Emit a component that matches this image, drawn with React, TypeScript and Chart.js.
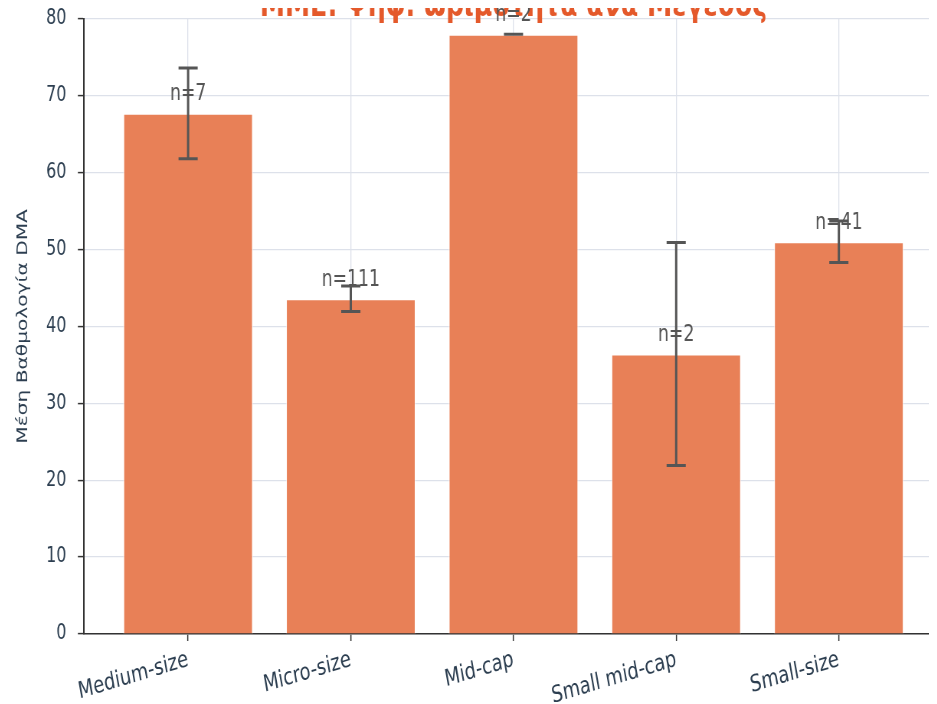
import React, { useEffect, useRef } from "react";
import { Chart, registerables } from "chart.js";

Chart.register(...registerables);

const categories = ["Medium-size", "Micro-size", "Mid-cap", "Small mid-cap", "Small-size"];
const meanScores = [67.7, 43.6, 78.0, 36.4, 51.0];
const errorValues = [5.9, 1.65, 0, 14.5, 2.7];
const sampleCounts = [7, 111, 2, 2, 41];
const yAxisMin = 0;
const yAxisMax = 80;
const yAxisStep = 10;
const titleText = "ΜΜΕ: Ψηφ. ωριμότητα ανά Μέγεθος";
const yAxisTitle = "Μέση Βαθμολογία DMA";

const FONT = "'DejaVu Sans', 'Noto Sans', sans-serif";
const SCALE_X = 0.766;
const CANVAS_W = 1240;
const CANVAS_H = 760;

const errorBarPlugin = {
  id: "errorBarsAndCounts",
  afterDraw(chart: any) {
    const meta = chart.getDatasetMeta(0);
    const ys = chart.scales.y;
    const ctx = chart.ctx;
    ctx.save();
    // counts
    ctx.fillStyle = "#555555";
    ctx.font = `22.5px ${FONT}`;
    ctx.textAlign = "center";
    ctx.textBaseline = "alphabetic";
    meta.data.forEach((bar: any, i: number) => {
      ctx.fillText(`n=${sampleCounts[i]}`, bar.x, bar.y - 13);
    });
    // error bars
    ctx.strokeStyle = "#555555";
    ctx.lineWidth = 3;
    meta.data.forEach((bar: any, i: number) => {
      const hi = ys.getPixelForValue(meanScores[i] + errorValues[i]);
      const lo = ys.getPixelForValue(meanScores[i] - errorValues[i]);
      const cap = 12.5;
      ctx.beginPath();
      ctx.moveTo(bar.x, hi);
      ctx.lineTo(bar.x, lo);
      ctx.moveTo(bar.x - cap, hi);
      ctx.lineTo(bar.x + cap, hi);
      ctx.moveTo(bar.x - cap, lo);
      ctx.lineTo(bar.x + cap, lo);
      ctx.stroke();
    });
    ctx.restore();
  },
};

export default function App() {
  const canvasRef = useRef<HTMLCanvasElement | null>(null);

  useEffect(() => {
    if (!canvasRef.current) return;
    const chart = new Chart(canvasRef.current, {
      type: "bar",
      data: {
        datasets: [
          {
            data: meanScores.map((v, i) => ({ x: i, y: v })),
            backgroundColor: "rgb(232,128,87)",
            borderColor: "rgba(255,255,255,0.55)",
            borderWidth: 1.5,
            barPercentage: 0.8,
            categoryPercentage: 1.0,
          },
        ],
      },
      options: {
        responsive: false,
        animation: false,
        devicePixelRatio: 1,
        layout: { padding: { left: 0, right: 19.4, top: 0, bottom: 0 } },
        plugins: {
          legend: { display: false },
          tooltip: { enabled: false },
          title: {
            display: true,
            text: titleText,
            color: "#e4592b",
            fullSize: false,
            align: "center",
            font: { family: FONT, size: 33, weight: "bold", lineHeight: 0.75 },
            padding: { top: 27, bottom: -1 },
          },
        },
        scales: {
          x: {
            type: "linear",
            offset: false,
            min: -0.64,
            max: categories.length - 1 + 0.64,
            z: 1,
            afterBuildTicks: (scale: any) => {
              scale.ticks = categories.map((_, i) => ({ value: i }));
            },
            afterFit: (scale: any) => {
              scale.height = 94;
            },
            grid: {
              offset: false,
              color: "#dde1ea",
              lineWidth: 1.3,
              drawTicks: true,
              tickLength: 7,
              tickColor: "#333333",
              tickWidth: 1.5,
            },
            border: { display: true, color: "#333333", width: 1.6 },
            ticks: {
              autoSkip: false,
              minRotation: 13,
              maxRotation: 13,
              padding: 5,
              color: "#2c3e50",
              font: { family: FONT, size: 23.3 },
              callback: (value: any) => categories[Math.round(Number(value))] ?? "",
            },
          },
          y: {
            min: yAxisMin,
            max: yAxisMax,
            z: 1,
            afterFit: (scale: any) => {
              scale.width = 99.2;
            },
            grid: {
              color: "#dde1ea",
              lineWidth: 1.2,
              drawTicks: true,
              tickLength: 8,
              tickColor: "#333333",
              tickWidth: 1.5,
            },
            border: { display: true, color: "#333333", width: 2 },
            ticks: {
              stepSize: yAxisStep,
              padding: 15,
              color: "#2c3e50",
              font: { family: FONT, size: 20.8 },
            },
            title: {
              display: true,
              text: yAxisTitle,
              color: "#2c3e50",
              font: { family: FONT, size: 20.2 },
              padding: { top: 8, bottom: 0 },
            },
          },
        },
      },
      plugins: [errorBarPlugin],
    } as any);
    return () => chart.destroy();
  }, []);

  return (
    <div style={{ position: "relative", width: 929, height: 696, overflow: "hidden" }}>
      <div
        style={{
          position: "absolute",
          left: 0,
          top: -40,
          width: CANVAS_W,
          height: CANVAS_H,
          transform: `scaleX(${SCALE_X})`,
          transformOrigin: "0 0",
        }}
      >
        <canvas ref={canvasRef} width={CANVAS_W} height={CANVAS_H} />
      </div>
    </div>
  );
}
